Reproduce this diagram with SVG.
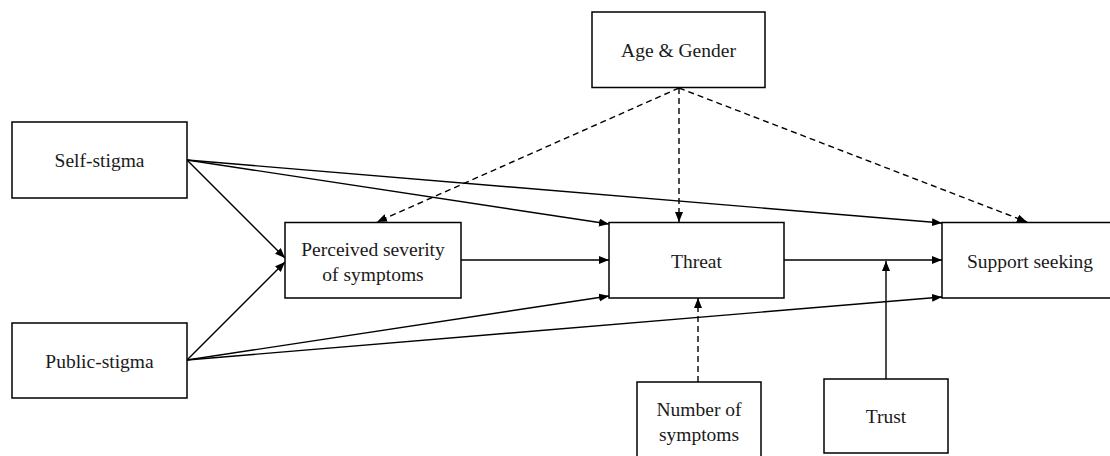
<svg xmlns="http://www.w3.org/2000/svg" width="1110" height="456" viewBox="0 0 1110 456">
<style>
.box{fill:#fff;stroke:#000;stroke-width:1.5}
.t{font-family:"Liberation Serif","Times New Roman",serif;font-size:19.5px;fill:#1a1a1a;text-anchor:middle}
.c{fill:none;stroke:#000;stroke-width:1.4}
.d{fill:none;stroke:#000;stroke-width:1.4;stroke-dasharray:6 4}
</style>
<defs>
<marker id="ah" markerUnits="userSpaceOnUse" markerWidth="11" markerHeight="9" refX="10" refY="4" orient="auto">
<path d="M0,0 L10,4 L0,8 z" fill="#000"/>
</marker>
</defs>
<rect width="1110" height="456" fill="#fff"/>
<g id="connectors">
<line class="c" x1="187" y1="160" x2="285" y2="258" marker-end="url(#ah)"/>
<line class="c" x1="187" y1="160" x2="609" y2="224" marker-end="url(#ah)"/>
<line class="c" x1="187" y1="160" x2="942" y2="223" marker-end="url(#ah)"/>
<line class="c" x1="187" y1="360" x2="285" y2="262" marker-end="url(#ah)"/>
<line class="c" x1="187" y1="360" x2="609" y2="296" marker-end="url(#ah)"/>
<line class="c" x1="187" y1="360" x2="942" y2="297" marker-end="url(#ah)"/>
<line class="c" x1="461" y1="260" x2="609" y2="260" marker-end="url(#ah)"/>
<line class="c" x1="784" y1="260" x2="942" y2="260" marker-end="url(#ah)"/>
<line class="c" x1="886" y1="379" x2="886" y2="261" marker-end="url(#ah)"/>
<line class="d" x1="679" y1="88" x2="377" y2="222" marker-end="url(#ah)"/>
<line class="d" x1="679" y1="88" x2="679" y2="222" marker-end="url(#ah)"/>
<line class="d" x1="679" y1="88" x2="1027" y2="222" marker-end="url(#ah)"/>
<line class="d" x1="698" y1="382" x2="698" y2="298" marker-end="url(#ah)"/>
</g>
<g id="self-stigma">
<rect class="box" x="12" y="122" width="175" height="76"/>
<text class="t" x="99.5" y="167">Self-stigma</text>
</g>
<g id="public-stigma">
<rect class="box" x="12" y="323" width="175" height="75"/>
<text class="t" x="99.5" y="368">Public-stigma</text>
</g>
<g id="perceived-severity">
<rect class="box" x="285" y="222.5" width="176" height="75.5"/>
<text class="t" x="373" y="256">Perceived severity</text>
<text class="t" x="373" y="281">of symptoms</text>
</g>
<g id="age-gender">
<rect class="box" x="592" y="12" width="173" height="75.5"/>
<text class="t" x="678.5" y="56.5">Age &amp; Gender</text>
</g>
<g id="threat">
<rect class="box" x="609" y="222.5" width="175" height="75.5"/>
<text class="t" x="696.5" y="267.5">Threat</text>
</g>
<g id="support-seeking">
<rect class="box" x="942" y="222.5" width="176" height="75.5"/>
<text class="t" x="1030" y="267.5">Support seeking</text>
</g>
<g id="number-of-symptoms">
<rect class="box" x="637" y="382" width="124" height="90"/>
<text class="t" x="699" y="416">Number of</text>
<text class="t" x="699" y="441">symptoms</text>
</g>
<g id="trust">
<rect class="box" x="824" y="379" width="124" height="74"/>
<text class="t" x="886" y="423">Trust</text>
</g>
</svg>
